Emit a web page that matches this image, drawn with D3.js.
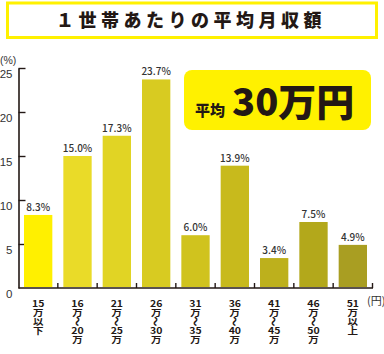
<!DOCTYPE html>
<html>
<head>
<meta charset="utf-8">
<script src="https://cdn.jsdelivr.net/npm/d3@7"></script>
<style>
  html, body { margin: 0; padding: 0; background: #fff; }
  svg { display: block; }
  .jp { font-family: "Noto Sans CJK JP", "Noto Sans", sans-serif; }
</style>
</head>
<body>
<div id="chart"></div>
<script>
(function () {
  // ---------- Data ----------
  const categories = [
    "15万以下", "16万～20万", "21万～25万", "26万～30万", "31万～35万",
    "36万～40万", "41万～45万", "46万～50万", "51万以上"
  ];
  const shares = [8.3, 15.0, 17.3, 23.7, 6.0, 13.9, 3.4, 7.5, 4.9];
  const yTicks = [0, 5, 10, 15, 20, 25];
  const barColors = [
    "#fff000", "#eadb28", "#e1d424", "#d8cb21", "#d0c31e",
    "#c8ba1c", "#bdb01c", "#b3a81b", "#a99e22"
  ];

  const INK = "#231815";
  const W = 384, H = 354;
  const X0 = 18.5, X1 = 372.5, Y0 = 288, Y1 = 68;

  const svg = d3.select("#chart").append("svg")
    .attr("width", W).attr("height", H)
    .attr("viewBox", `0 0 ${W} ${H}`);

  // ---------- Title box ----------
  svg.append("rect")
    .attr("x", 7.5).attr("y", 3).attr("width", 369).attr("height", 34.5)
    .attr("fill", "#fff").attr("stroke", "#fff100").attr("stroke-width", 3);
  svg.append("text")
    .attr("class", "jp")
    .attr("x", 191).attr("y", 27)
    .attr("text-anchor", "middle")
    .style("font-size", "18px").style("font-weight", 900)
    .style("letter-spacing", "4.5px")
    .attr("fill", INK)
    .text("１世帯あたりの平均月収額");

  // ---------- Scales ----------
  const x = d3.scaleBand()
    .domain(categories)
    .range([X0, X1])
    .paddingInner(0.28)
    .paddingOuter(0.14);
  const y = d3.scaleLinear().domain([0, 25]).range([Y0, Y1]);

  // ---------- Y axis ----------
  const gy = svg.append("g")
    .attr("transform", `translate(${X0},0)`)
    .call(d3.axisLeft(y).tickValues(yTicks).tickSizeInner(-7).tickSizeOuter(0).tickPadding(6))
    .style("font-family", "'Liberation Sans', Arial, sans-serif")
    .style("font-size", "11.5px");
  gy.select(".domain").attr("stroke", INK).attr("stroke-width", 1.6);
  gy.selectAll(".tick line").attr("stroke", INK).attr("stroke-width", 1.4);
  gy.selectAll(".tick text").attr("fill", "#333").attr("y", 5.5);
  gy.selectAll(".tick").filter(d => d === 0).select("line").remove();

  svg.append("text")
    .attr("x", 0).attr("y", 64)
    .style("font-family", "'Liberation Sans', Arial, sans-serif")
    .style("font-size", "10.5px")
    .attr("fill", "#333")
    .text("(%)");

  // ---------- Bars ----------
  const rows = categories.map((c, i) => ({ cat: c, v: shares[i], color: barColors[i] }));

  svg.selectAll("rect.bar")
    .data(rows)
    .join("rect")
    .attr("class", "bar")
    .attr("x", d => x(d.cat))
    .attr("y", d => y(d.v))
    .attr("width", x.bandwidth())
    .attr("height", d => y(0) - 1 - y(d.v))
    .attr("fill", d => d.color);

  svg.selectAll("text.val")
    .data(rows)
    .join("text")
    .attr("class", "val jp")
    .attr("x", d => x(d.cat) + x.bandwidth() / 2)
    .attr("y", d => y(d.v) - 4)
    .attr("text-anchor", "middle")
    .style("font-size", "10px").style("font-weight", 500)
    .attr("fill", "#333")
    .text(d => d.v.toFixed(1) + "%");

  // ---------- X axis (baseline + ticks at band edges) ----------
  const half = x.step() * x.paddingInner() / 2;
  const edges = categories.map(c => x(c) + x.bandwidth() + half);
  svg.append("line")
    .attr("x1", X0).attr("x2", X1 + 0.5)
    .attr("y1", Y0).attr("y2", Y0)
    .attr("stroke", INK).attr("stroke-width", 1.6);
  svg.selectAll("line.xtick")
    .data(edges)
    .join("line")
    .attr("class", "xtick")
    .attr("x1", d => d).attr("x2", d => d)
    .attr("y1", Y0).attr("y2", Y0 - 5)
    .attr("stroke", INK).attr("stroke-width", 1.4);

  // ---------- X labels (stacked vertically, squeezed a little) ----------
  const lab = svg.selectAll("g.xlab")
    .data(categories)
    .join("g")
    .attr("class", "xlab jp")
    .attr("transform", d => `translate(${x(d) + x.bandwidth() / 2},0)`)
    .style("font-size", "10.5px").style("font-weight", 700)
    .attr("fill", INK);

  lab.each(function (d) {
    const parts = d.match(/\d+|./g);
    const g = d3.select(this);
    parts.forEach((p, i) => {
      const yy = 307 + i * 9;
      if (p === "～") {
        // vertical wave dash, as in vertical Japanese text
        g.append("text")
          .attr("text-anchor", "middle")
          .attr("dominant-baseline", "central")
          .attr("transform", `translate(0,${yy - 3.5}) rotate(90) scale(0.9,1)`)
          .style("font-size", "11px")
          .text(p);
      } else {
        g.append("text")
          .attr("text-anchor", "middle")
          .attr("transform", `translate(0,${yy}) scale(1,0.86)`)
          .text(p);
      }
    });
  });

  svg.append("text")
    .attr("class", "jp")
    .attr("x", 367).attr("y", 305)
    .style("font-size", "11px")
    .attr("fill", "#333")
    .text("(円)");

  // ---------- Average callout ----------
  svg.append("rect")
    .attr("x", 184).attr("y", 70).attr("width", 187).attr("height", 60)
    .attr("rx", 8).attr("fill", "#fff100");
  const avg = svg.append("text")
    .attr("class", "jp")
    .attr("x", 195).attr("y", 116)
    .attr("fill", INK)
    .style("font-weight", 900);
  avg.append("tspan").style("font-size", "15px").text("平均");
  avg.append("tspan").attr("dx", 7).style("font-size", "38px").text("30万円");
})();
</script>
</body>
</html>
